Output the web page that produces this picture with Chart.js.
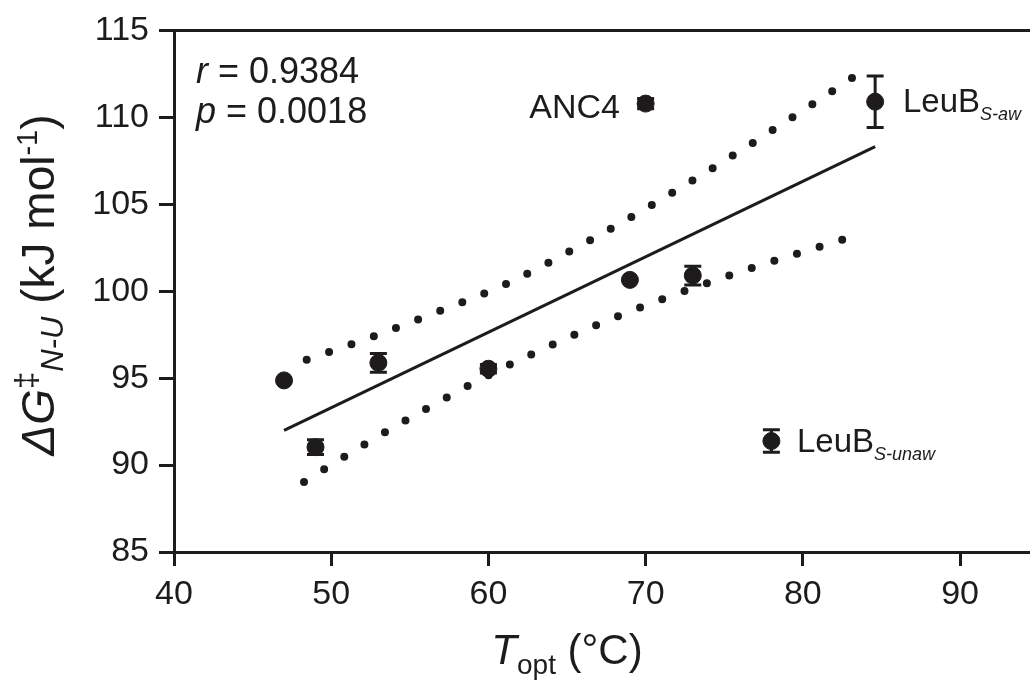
<!DOCTYPE html>
<html>
<head>
<meta charset="utf-8">
<script src="https://cdn.jsdelivr.net/npm/chart.js@4/dist/chart.umd.min.js"></script>
<style>
  html, body { margin: 0; padding: 0; background: #fff; }
  #wrap { width: 1030px; height: 681px; }
</style>
</head>
<body>
<div id="wrap"><canvas id="c" width="1030" height="681"></canvas></div>
<script>
// ---- data ----------------------------------------------------------------
const tOpt  = [47, 49, 53, 60, 69, 70, 73, 78, 84.6];
const dG    = [94.87, 91.03, 95.88, 95.54, 100.65, 110.79, 100.9, 91.38, 110.9];
const dGErr = [0, 0.42, 0.54, 0.25, 0, 0.3, 0.54, 0.65, 1.48];

// linear fit
const fitX = [47, 84.6];
const fitY = [92.0, 108.32];

// 95% confidence bands (dotted)
const upperX = [48.44, 52.7, 56.88, 61.04, 66.3, 71.38, 76.45, 81.4, 83.9];
const upperY = [96.06, 97.4, 98.85, 100.38, 102.85, 105.49, 108.32, 111.23, 112.72];
const lowerX = [48.27, 52.1, 55.97, 59.9, 64.0, 68.0, 72.15, 76.36, 80.56, 83.38];
const lowerY = [89.03, 91.18, 93.2, 95.12, 96.9, 98.47, 99.9, 101.22, 102.41, 103.21];

const xTicks = [40, 50, 60, 70, 80, 90];
const yTicks = [85, 90, 95, 100, 105, 110, 115];

const ink = "#1e1b1c";
const FF = '"Liberation Sans", Arial, Helvetica, sans-serif';

const pts = (xs, ys) => xs.map((x, i) => ({ x, y: ys[i] }));

// ---- rich text helper (sub/superscripts) --------------------------------
function drawRuns(ctx, runs, x, y, align) {
  let w = 0;
  runs.forEach((r) => { ctx.font = r.font; w += ctx.measureText(r.text).width; });
  let cx = align === "right" ? x - w : align === "center" ? x - w / 2 : x;
  runs.forEach((r) => {
    ctx.font = r.font;
    ctx.fillText(r.text, cx, y + (r.dy || 0));
    cx += ctx.measureText(r.text).width;
  });
}

// ---- error bars ------------------------------------------------------------
const errorBars = {
  id: "errorBars",
  afterDatasetsDraw(chart) {
    const { ctx, scales: { x, y } } = chart;
    ctx.save();
    ctx.strokeStyle = ink;
    ctx.lineWidth = 3;
    tOpt.forEach((t, i) => {
      const e = dGErr[i];
      if (!e) return;
      const px = x.getPixelForValue(t);
      const top = y.getPixelForValue(dG[i] + e);
      const bot = y.getPixelForValue(dG[i] - e);
      ctx.beginPath();
      ctx.moveTo(px, top); ctx.lineTo(px, bot);
      ctx.moveTo(px - 8.5, top); ctx.lineTo(px + 8.5, top);
      ctx.moveTo(px - 8.5, bot); ctx.lineTo(px + 8.5, bot);
      ctx.stroke();
    });
    ctx.restore();
  },
};

// ---- frame top, titles and annotations ------------------------------------
const decor = {
  id: "decor",
  afterDraw(chart) {
    const { ctx, chartArea: a } = chart;
    ctx.save();
    ctx.strokeStyle = ink;
    ctx.lineWidth = 3;
    ctx.beginPath();
    ctx.moveTo(a.left - 1.5, a.top);
    ctx.lineTo(a.right, a.top);
    ctx.stroke();

    ctx.fillStyle = ink;
    ctx.textBaseline = "alphabetic";

    // stats
    drawRuns(ctx, [
      { text: "r", font: `italic 36px ${FF}` },
      { text: " = 0.9384", font: `36px ${FF}` },
    ], 196, 83, "left");
    drawRuns(ctx, [
      { text: "p", font: `italic 36px ${FF}` },
      { text: " = 0.0018", font: `36px ${FF}` },
    ], 196, 123, "left");

    // point labels
    drawRuns(ctx, [{ text: "ANC4", font: `34px ${FF}` }], 620, 118, "right");
    drawRuns(ctx, [
      { text: "LeuB", font: `33px ${FF}` },
      { text: "S-aw", font: `italic 18px ${FF}`, dy: 8 },
    ], 903, 112, "left");
    drawRuns(ctx, [
      { text: "LeuB", font: `33px ${FF}` },
      { text: "S-unaw", font: `italic 18px ${FF}`, dy: 8 },
    ], 797, 452, "left");

    // x title
    drawRuns(ctx, [
      { text: "T", font: `italic 42px ${FF}` },
      { text: "opt", font: `28px ${FF}`, dy: 10 },
      { text: " (°C)", font: `42px ${FF}` },
    ], 567, 664, "center");

    // y title
    ctx.translate(54, 285);
    ctx.rotate(-Math.PI / 2);
    drawRuns(ctx, [
      { text: "ΔG", font: `italic 46px ${FF}` },
      { text: "‡", font: `31px ${FF}`, dy: -17 },
      { text: "N-U", font: `italic 31px ${FF}`, dy: 9 },
      { text: " (kJ mol", font: `46px ${FF}` },
      { text: "-1", font: `29px ${FF}`, dy: -17 },
      { text: ")", font: `46px ${FF}` },
    ], 0, 0, "center");
    ctx.restore();
  },
};

const dotted = {
  borderColor: ink,
  borderWidth: 8,
  borderDash: [0, 23.7],
  borderCapStyle: "round",
  cubicInterpolationMode: "monotone",
  pointRadius: 0,
  showLine: true,
  fill: false,
};

new Chart(document.getElementById("c"), {
  type: "scatter",
  data: {
    datasets: [
      {
        data: pts(tOpt, dG),
        pointRadius: 8.5,
        pointBorderWidth: 1,
        pointBackgroundColor: ink,
        pointBorderColor: ink,
        showLine: false,
        order: 0,
      },
      {
        data: pts(fitX, fitY),
        showLine: true,
        borderColor: ink,
        borderWidth: 3,
        pointRadius: 0,
        order: 1,
      },
      { ...dotted, data: pts(upperX, upperY), order: 2 },
      { ...dotted, data: pts(lowerX, lowerY), order: 3 },
    ],
  },
  options: {
    responsive: false,
    animation: false,
    events: [],
    layout: { autoPadding: false, padding: { top: 29, right: 0, bottom: 0, left: 0 } },
    plugins: { legend: { display: false }, tooltip: { enabled: false } },
    scales: {
      x: {
        type: "linear",
        min: 40,
        max: 94.45,
        afterBuildTicks: (s) => { s.ticks = xTicks.map((v) => ({ value: v })); },
        afterFit: (s) => { s.height = 129; s.paddingRight = 0; s.paddingLeft = 0; },
        grid: { drawOnChartArea: false, drawTicks: true, tickLength: 14, lineWidth: 3, color: ink },
        border: { display: true, width: 3, color: ink },
        ticks: { font: { family: FF, size: 34 }, color: ink, padding: 8, maxRotation: 0 },
      },
      y: {
        type: "linear",
        min: 85,
        max: 115,
        afterBuildTicks: (s) => { s.ticks = yTicks.map((v) => ({ value: v })); },
        afterFit: (s) => { s.width = 174; },
        grid: { drawOnChartArea: false, drawTicks: true, tickLength: 15, lineWidth: 3, color: ink },
        border: { display: true, width: 3, color: ink },
        ticks: { font: { family: FF, size: 34 }, color: ink, padding: 10 },
      },
    },
  },
  plugins: [errorBars, decor],
});
</script>
</body>
</html>
